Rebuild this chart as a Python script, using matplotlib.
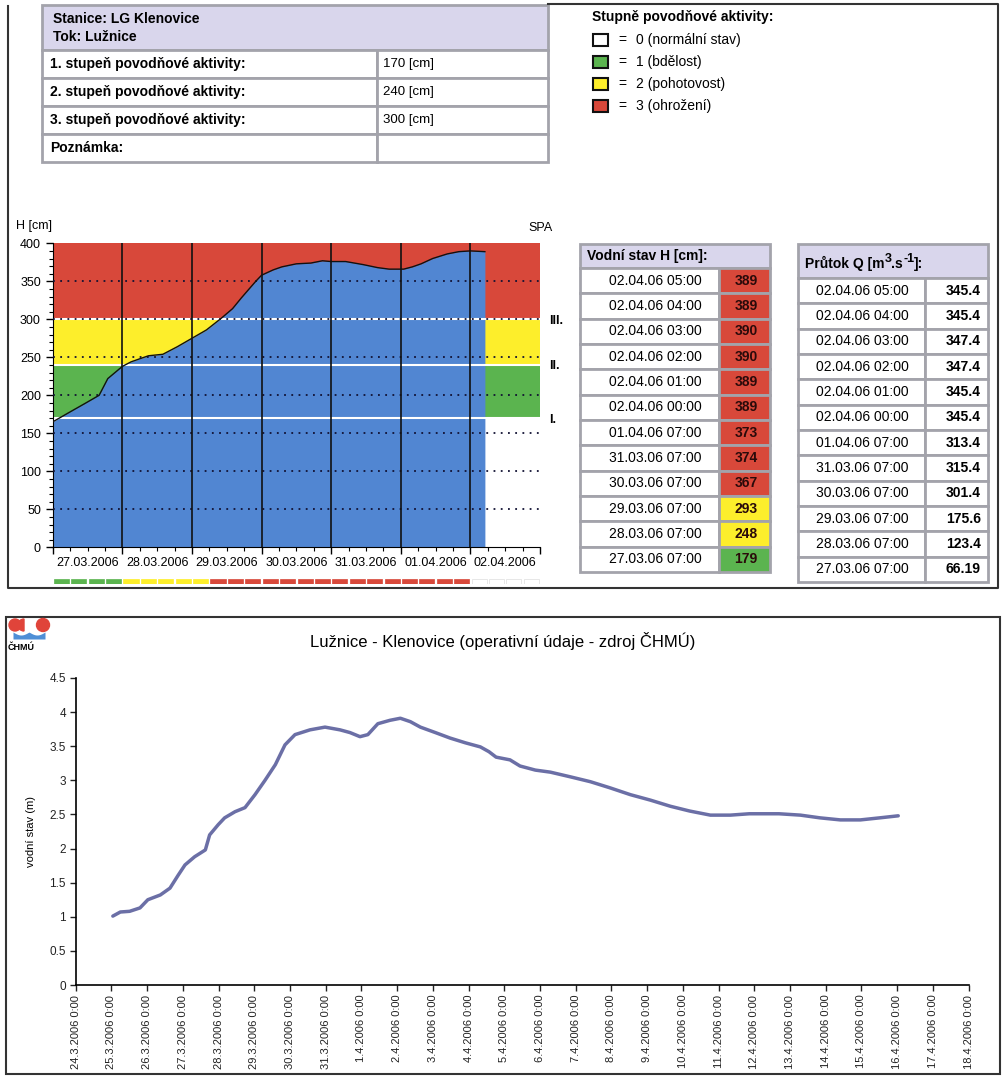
import numpy as np
import matplotlib
matplotlib.use("Agg")
import matplotlib.pyplot as plt
from matplotlib.patches import Rectangle, Circle, Wedge
import matplotlib.transforms as mtransforms

W, H = 1006, 1081

# --- data -------------------------------------------------------------
station = "Stanice: LG Klenovice"
river = "Tok: Lužnice"
spa_labels = ["1. stupeň povodňové aktivity:", "2. stupeň povodňové aktivity:",
              "3. stupeň povodňové aktivity:", "Poznámka:"]
spa_values = ["170 [cm]", "240 [cm]", "300 [cm]", ""]
spa_limits = [170, 240, 300]

legend_title = "Stupně povodňové aktivity:"
legend_items = ["0 (normální stav)", "1 (bdělost)", "2 (pohotovost)", "3 (ohrožení)"]

# hydrograph (hours since 27.03.2006 00:00, water level cm)
h_hours = [0, 5, 11, 16, 19, 24, 27, 33, 38, 43, 48, 53, 58, 62, 65, 70, 72, 76,
           79, 84, 89, 93, 96, 101, 107, 112, 116, 121, 124, 127, 131, 136, 140,
           144, 149]
h_cm = [165, 176, 189, 200, 222, 238, 244, 252, 254, 264, 275, 286, 301, 314,
        328, 350, 358, 365, 369, 373, 374, 377, 376, 376, 372, 368, 366, 366,
        369, 373, 380, 386, 389, 390, 389]
day_labels = ["27.03.2006", "28.03.2006", "29.03.2006", "30.03.2006",
              "31.03.2006", "01.04.2006", "02.04.2006"]
# level of the status strip, one value per 6 hours
status_blocks = [1, 1, 1, 1, 2, 2, 2, 2, 2, 3, 3, 3, 3, 3, 3, 3, 3, 3, 3, 3, 3,
                 3, 3, 3, 0, 0, 0, 0]

h_times = ["02.04.06 05:00", "02.04.06 04:00", "02.04.06 03:00", "02.04.06 02:00",
           "02.04.06 01:00", "02.04.06 00:00", "01.04.06 07:00", "31.03.06 07:00",
           "30.03.06 07:00", "29.03.06 07:00", "28.03.06 07:00", "27.03.06 07:00"]
h_table = [389, 389, 390, 390, 389, 389, 373, 374, 367, 293, 248, 179]
q_table = ["345.4", "345.4", "347.4", "347.4", "345.4", "345.4", "313.4",
           "315.4", "301.4", "175.6", "123.4", "66.19"]

# CHMU series (days since 24.3.2006, level m)
c_days = [1.04, 1.25, 1.51, 1.80, 2.02, 2.37, 2.64, 2.87, 3.06, 3.33, 3.63, 3.75,
          3.99, 4.17, 4.46, 4.74, 5.02, 5.30, 5.59, 5.86, 6.14, 6.56, 6.98, 7.40,
          7.68, 7.96, 8.18, 8.46, 8.80, 9.09, 9.37, 9.65, 10.07, 10.48, 10.91,
          11.33, 11.57, 11.77, 12.16, 12.44, 12.87, 13.29, 13.86, 14.41, 14.96,
          15.53, 16.09, 16.65, 17.19, 17.77, 18.33, 18.86, 19.69, 20.29, 20.84,
          21.41, 21.97, 22.51, 23.03]
c_m = [1.01, 1.07, 1.08, 1.13, 1.25, 1.32, 1.42, 1.61, 1.76, 1.88, 1.98, 2.2,
       2.35, 2.45, 2.54, 2.6, 2.79, 3.0, 3.23, 3.52, 3.67, 3.74, 3.78, 3.74,
       3.70, 3.64, 3.67, 3.83, 3.88, 3.91, 3.86, 3.78, 3.70, 3.62, 3.55, 3.49,
       3.42, 3.34, 3.30, 3.21, 3.15, 3.12, 3.05, 2.98, 2.89, 2.79, 2.71, 2.62,
       2.55, 2.49, 2.49, 2.51, 2.51, 2.49, 2.45, 2.42, 2.42, 2.45, 2.48]
c_dates = ["24.3.2006 0:00", "25.3.2006 0:00", "26.3.2006 0:00", "27.3.2006 0:00",
           "28.3.2006 0:00", "29.3.2006 0:00", "30.3.2006 0:00", "31.3.2006 0:00",
           "1.4.2006 0:00", "2.4.2006 0:00", "3.4.2006 0:00", "4.4.2006 0:00",
           "5.4.2006 0:00", "6.4.2006 0:00", "7.4.2006 0:00", "8.4.2006 0:00",
           "9.4.2006 0:00", "10.4.2006 0:00", "11.4.2006 0:00", "12.4.2006 0:00",
           "13.4.2006 0:00", "14.4.2006 0:00", "15.4.2006 0:00", "16.4.2006 0:00",
           "17.4.2006 0:00", "18.4.2006 0:00"]

# --- styles -----------------------------------------------------------
red, yellow, green, blue = "#d8483a", "#fdee2b", "#5bb44f", "#5186d2"
lvl_colors = ["white", green, yellow, red]
lav = "#d9d6ec"
grid_grey = "#a3a3ab"
NARROW = ["Liberation Sans Narrow", "Liberation Sans", "DejaVu Sans"]
SANS = ["Liberation Sans", "DejaVu Sans"]


def px_axes(x0, y0, x1, y1, **kw):
    return fig.add_axes([x0 / W, 1 - y1 / H, (x1 - x0) / W, (y1 - y0) / H], **kw)


def level_of(v):
    return int(np.searchsorted(spa_limits, v, side="right"))


fig = plt.figure(figsize=(W / 100, H / 100), dpi=100)
ov = fig.add_axes([0, 0, 1, 1], zorder=0)
ov.set_xlim(0, W)
ov.set_ylim(H, 0)
ov.axis("off")

# panel frames
ov.plot([8, 8, 998, 998, 548], [6, 588, 588, 4, 4], color="#333333", lw=1.5)
ov.add_patch(Rectangle((6, 617), 994, 457, fill=False, ec="#333333", lw=1.5))

# --- station table ----------------------------------------------------
ov.add_patch(Rectangle((42, 5), 506, 45, fc=lav, ec=grid_grey, lw=2))
ov.text(53, 19, station, fontsize=10, fontweight="bold", family=SANS, va="center")
ov.text(53, 37, river, fontsize=10, fontweight="bold", family=SANS, va="center")
for i, (lab, val) in enumerate(zip(spa_labels, spa_values)):
    y0 = 50 + i * 28
    ov.add_patch(Rectangle((42, y0), 335, 28, fc="white", ec=grid_grey, lw=2))
    ov.add_patch(Rectangle((377, y0), 171, 28, fc="white", ec=grid_grey, lw=2))
    ov.text(50, y0 + 14, lab, fontsize=10, fontweight="bold", family=SANS, va="center")
    ov.text(383, y0 + 14, val, fontsize=9.5, family=NARROW, va="center")

# --- legend -----------------------------------------------------------
ov.text(592, 17, legend_title, fontsize=10, fontweight="bold", family=SANS, va="center")
for i, (lab, col) in enumerate(zip(legend_items, lvl_colors)):
    yc = 40 + i * 22
    ov.add_patch(Rectangle((593, yc - 6), 15, 12, fc=col, ec="#111111", lw=1.5))
    ov.text(618, yc, "=", fontsize=10, family=SANS, va="center")
    ov.text(636, yc, lab, fontsize=10, family=NARROW, va="center")

# --- water level table ------------------------------------------------
ov.add_patch(Rectangle((580, 244), 190, 24, fc=lav, ec=grid_grey, lw=2))
ov.text(587, 256, "Vodní stav H [cm]:", fontsize=10, fontweight="bold", family=SANS, va="center")
rh = 304 / 12
for i, (t, v) in enumerate(zip(h_times, h_table)):
    y0 = 268 + i * rh
    ov.add_patch(Rectangle((580, y0), 139, rh, fc="white", ec=grid_grey, lw=2))
    ov.add_patch(Rectangle((719, y0), 51, rh, fc=lvl_colors[level_of(v)], ec=grid_grey, lw=2))
    ov.text(655, y0 + rh / 2, t, fontsize=10, family=NARROW, ha="center", va="center")
    ov.text(746, y0 + rh / 2, str(v), fontsize=10, fontweight="bold", family=SANS,
            ha="center", va="center", color="#2a0a0a")

# --- discharge table --------------------------------------------------
ov.add_patch(Rectangle((798, 244), 190, 34, fc=lav, ec=grid_grey, lw=2))
hk = dict(fontweight="bold", family=SANS, va="baseline")
t1 = ov.text(805, 268, "Průtok Q [m", fontsize=10, **hk)
t2 = ov.annotate("3", xy=(1, 262), xycoords=(t1, "data"), fontsize=9, **hk)
t3 = ov.annotate(".s", xy=(1, 268), xycoords=(t2, "data"), fontsize=10, **hk)
t4 = ov.annotate("-1", xy=(1, 262), xycoords=(t3, "data"), fontsize=9, **hk)
ov.annotate("]:", xy=(1, 268), xycoords=(t4, "data"), fontsize=10, **hk)
for i, (t, q) in enumerate(zip(h_times, q_table)):
    y0 = 278 + i * rh
    ov.add_patch(Rectangle((798, y0), 127, rh, fc="white", ec=grid_grey, lw=2))
    ov.add_patch(Rectangle((925, y0), 63, rh, fc="white", ec=grid_grey, lw=2))
    ov.text(862, y0 + rh / 2, t, fontsize=10, family=NARROW, ha="center", va="center")
    ov.text(981, y0 + rh / 2, q, fontsize=10, fontweight="bold", family=SANS,
            ha="right", va="center")

# --- hydrograph -------------------------------------------------------
ax = px_axes(52.7, 243.3, 540, 547.3, zorder=2)
ax.set_xlim(0, 168)
ax.set_ylim(0, 400)
bands = [0] + spa_limits + [400]
for lo, hi, col in zip(bands[:-1], bands[1:], lvl_colors):
    ax.axhspan(lo, hi, color=col, zorder=0, lw=0)
ax.fill_between(h_hours, h_cm, 0, color=blue, lw=0, zorder=1)
ax.plot(h_hours, h_cm, color="#111111", lw=1.0, zorder=4)
for lim in spa_limits:
    ax.axhline(lim, color="white", lw=1.5, zorder=2)
for yv in range(50, 400, 50):
    ax.axhline(yv, color="#111133", lw=1.3, ls=(0, (1, 3)), zorder=3)
for d in range(24, 168, 24):
    ax.axvline(d, color="#111111", lw=1.2, zorder=3)
ax.set_yticks(range(0, 401, 50))
ax.set_yticks(range(0, 401, 10), minor=True)
ax.set_xticks(range(0, 169, 24))
ax.set_xticks(range(0, 169, 6), minor=True)
ax.set_xticklabels([])
ax.tick_params(which="major", length=5, width=1, labelsize=9)
ax.tick_params(which="minor", length=3, width=0.8)
for lab in ax.get_yticklabels():
    lab.set_family(NARROW)
for sp in ["top", "right"]:
    ax.spines[sp].set_visible(False)
trans = mtransforms.blended_transform_factory(ax.transData, ax.transAxes)
for i, lab in enumerate(day_labels):
    ax.text(12 + 24 * i, -0.05, lab, transform=trans, ha="center", va="center",
            fontsize=9, family=NARROW)
for lim, roman in zip(spa_limits, ["I.", "II.", "III."]):
    ax.text(171, lim - 2, roman, ha="left", va="center", fontsize=9,
            fontweight="bold", family=NARROW, clip_on=False)
ov.text(16, 226, "H [cm]", fontsize=9, family=NARROW, va="center")
ov.text(528, 228, "SPA", fontsize=9, family=NARROW, va="center")

# status strip
sb = px_axes(52.7, 579, 540, 584, zorder=2)
sb.set_xlim(0, 168)
sb.set_ylim(0, 1)
sb.axis("off")
for i, lv in enumerate(status_blocks):
    sb.add_patch(Rectangle((6 * i + 0.4, 0), 5.2, 1, fc=lvl_colors[lv],
                           ec="#dddddd" if lv == 0 else lvl_colors[lv], lw=0.5))

# --- CHMU chart -------------------------------------------------------
bx = px_axes(75.7, 678, 968.6, 985, zorder=2)
bx.plot(c_days, c_m, color="#6b6fa6", lw=2.5, solid_capstyle="round")
bx.set_xlim(0, 25)
bx.set_ylim(0, 4.5)
bx.set_xticks(range(0, 26))
bx.set_xticklabels(c_dates, rotation=90, fontsize=8, family=SANS)
yt = np.arange(0, 4.51, 0.5)
bx.set_yticks(yt)
bx.set_yticklabels([f"{v:g}" for v in yt], fontsize=8.5, family=SANS)
bx.tick_params(length=4, width=1, pad=3, colors="#222222")
for sp in ["top", "right"]:
    bx.spines[sp].set_visible(False)
for sp in ["left", "bottom"]:
    bx.spines[sp].set_linewidth(1.2)
bx.set_ylabel("vodní stav (m)", fontsize=8, family=NARROW)
bx.yaxis.set_label_coords(-0.045, 0.5)
ov.text(503, 641, "Lužnice - Klenovice (operativní údaje - zdroj ČHMÚ)",
        fontsize=12, family=SANS, ha="center", va="center")

# logo
ov.add_patch(Circle((15, 625), 6, color="#e0443a"))
ov.add_patch(Wedge((24, 625), 6, 90, 270, color="#e0443a"))
ov.add_patch(Circle((43, 625), 6.5, color="#e0443a"))
wx = np.linspace(13, 45, 40)
ov.fill_between(wx, 639, 632 + 3 * np.abs(np.sin((wx - 13) / 32 * 2 * np.pi)),
                color="#4f8fd6", lw=0)
ov.text(8, 647, "ČHMÚ", fontsize=6.5, fontweight="bold", family=SANS, va="center")

fig.savefig("out.png", dpi=100, facecolor="white")
